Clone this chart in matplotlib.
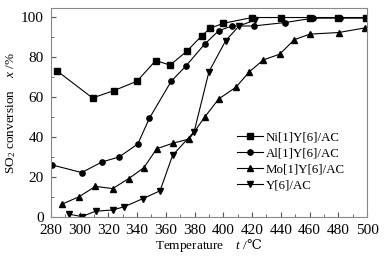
import numpy as np
import matplotlib
matplotlib.use("Agg")
import matplotlib.pyplot as plt
from matplotlib.ticker import MultipleLocator

plt.rcParams['font.family'] = ['Liberation Serif', 'DejaVu Serif']
plt.rcParams['mathtext.fontset'] = 'custom'
plt.rcParams['mathtext.it'] = 'Liberation Serif:italic'
plt.rcParams['mathtext.rm'] = 'Liberation Serif'
plt.rcParams['mathtext.sf'] = 'DejaVu Serif'

# Datos
t_ni = [284, 309, 324, 340, 353, 363, 375, 385, 391, 400, 420, 440, 460, 480, 499]
x_ni = [73.3, 59.6, 63.3, 68, 78.3, 76, 83.2, 90.7, 94.5, 96.9, 99.8, 99.8, 99.8, 99.8, 99.8]

t_al = [280.5, 301.5, 315.5, 327.5, 340.5, 348.6, 363.8, 373.8, 387, 396.8, 405.7, 421.3, 443, 462.7, 481.5, 499]
x_al = [26.2, 22.3, 27.6, 30.1, 36.6, 49.5, 68, 75.4, 86.5, 93.2, 95.5, 95.6, 97.3, 99.5, 99.5, 99.5]

t_mo = [287.5, 299.8, 311, 323, 334.2, 344.8, 353.6, 365, 376.3, 387, 396.8, 408.8, 418, 427.8, 439.3, 449.3, 460.2, 480.2, 498.5]
x_mo = [6.4, 10.3, 15.4, 14.3, 19.3, 24.8, 34.2, 37, 39.1, 50, 59.1, 65, 72.6, 78.6, 81.5, 88.7, 91.5, 92.3, 94.6]

t_y = [292.8, 301.5, 311.2, 323, 331, 343.8, 356, 364.7, 379.7, 390, 401.7, 411, 422.3]
x_y = [1.5, 0.3, 3.0, 3.6, 5.2, 9.2, 13.2, 30.9, 42.7, 72.7, 88.3, 95.6, 98.6]

labels = ['Ni[1]Y[6]/AC', 'Al[1]Y[6]/AC', 'Mo[1]Y[6]/AC', 'Y[6]/AC']

fig = plt.figure(figsize=(3.88, 2.62), dpi=100)
ax = fig.add_axes([0.131, 0.171, 0.815, 0.798])

estilo = dict(color='black', lw=0.8, markersize=3.8)
ax.plot(t_ni, x_ni, marker='s', label=labels[0], **estilo)
ax.plot(t_al, x_al, marker='o', label=labels[1], **estilo)
ax.plot(t_mo, x_mo, marker='^', label=labels[2], **estilo)
ax.plot(t_y, x_y, marker='v', label=labels[3], **estilo)

ax.set_xlim(280, 500)
ax.set_ylim(0, 104.5)
ax.xaxis.set_major_locator(MultipleLocator(20))
ax.xaxis.set_minor_locator(MultipleLocator(10))
ax.yaxis.set_major_locator(MultipleLocator(20))
ax.yaxis.set_minor_locator(MultipleLocator(10))
ax.tick_params(which='both', direction='in', top=False, right=False,
               labelsize=11, color='#555555')
ax.tick_params(which='major', length=3.5)
ax.tick_params(axis='x', which='major', pad=5)
ax.tick_params(axis='y', which='major', pad=5)
ax.tick_params(which='minor', length=2)
for s in ax.spines.values():
    s.set_color('#888888')
    s.set_linewidth(0.8)

ax.set_xlabel(r'Temperature    $t$ /$\mathsf{℃}$', fontsize=9.5, labelpad=0)
ax.set_ylabel(r'SO$_2$ conversion    $x$ /%', fontsize=9.5, labelpad=2)

leg = ax.legend(loc='upper left', bbox_to_anchor=(237 / 388, 1 - 131 / 262),
                bbox_transform=fig.transFigure, frameon=False, fontsize=9.3,
                handlelength=2.0, handletextpad=0.2, labelspacing=0.33,
                borderpad=0, borderaxespad=0)

fig.savefig('out.png', dpi=100)
